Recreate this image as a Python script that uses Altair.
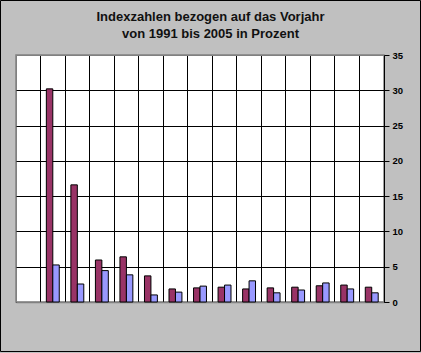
import altair as alt
import pandas as pd

years = [str(y) for y in range(1991, 2006)]
series_names = ["Reihe 1", "Reihe 2"]
reihe1 = [None, 30.2, 16.6, 5.95, 6.4, 3.7, 1.85, 2.0, 2.1, 1.85, 2.0, 2.1, 2.3, 2.4, 2.1]
reihe2 = [None, 5.25, 2.55, 4.45, 3.85, 1.0, 1.4, 2.25, 2.4, 3.0, 1.3, 1.7, 2.7, 1.85, 1.3]
colors = ["#993366", "#9999FF"]
y_ticks = [0, 5, 10, 15, 20, 25, 30, 35]
title_lines = ["Indexzahlen bezogen auf das Vorjahr", "von 1991 bis 2005 in Prozent"]

rows = []
for i, y in enumerate(years):
    for name, vals in zip(series_names, [reihe1, reihe2]):
        if vals[i] is not None:
            rows.append({"Jahr": y, "Reihe": name, "Wert": vals[i]})
df = pd.DataFrame(rows)

bars = alt.Chart(df).mark_bar(stroke="black", strokeWidth=1).encode(
    x=alt.X(
        "Jahr:N",
        scale=alt.Scale(domain=years, paddingInner=0, paddingOuter=0),
        axis=alt.Axis(
            title=None, labels=False, ticks=False, grid=True, bandPosition=0,
            gridColor={"condition": {"test": "datum.value === '1991'", "value": "#808080"}, "value": "black"},
            gridWidth=1, domainColor="#808080", domainWidth=1.5,
        ),
    ),
    xOffset=alt.XOffset("Reihe:N", scale=alt.Scale(domain=series_names, paddingInner=0, paddingOuter=0.9)),
    y=alt.Y(
        "Wert:Q",
        scale=alt.Scale(domain=[0, 35], nice=False),
        axis=alt.Axis(
            title=None, orient="right", values=y_ticks, grid=True,
            gridColor={"condition": {"test": "datum.value === 35", "value": "#808080"}, "value": "black"},
            gridWidth=1, domainColor="black", domainWidth=1, tickColor="black", tickSize=5,
            labelFont="Liberation Sans", labelFontSize=9.5, labelFontWeight="bold", labelColor="black",
            labelPadding=3,
        ),
    ),
    color=alt.Color("Reihe:N", scale=alt.Scale(domain=series_names, range=colors), legend=None),
)

frame = alt.Chart(pd.DataFrame({"a": [0]})).mark_rect(filled=False, stroke="black", strokeWidth=1).encode(
    x=alt.value(-15.5), x2=alt.value(404.5), y=alt.value(-54.5), y2=alt.value(296.5)
)

title = alt.Chart(pd.DataFrame({"a": [0]})).mark_text(
    font="Liberation Sans", fontSize=13, fontWeight="bold", color="#111111",
    lineHeight=17, align="center", baseline="alphabetic",
).encode(
    text=alt.value(title_lines), x=alt.value(194.5), y=alt.value(-34)
)

chart = alt.layer(bars, frame, title).properties(
    width=368,
    height=247,
    background="#C0C0C0",
    padding={"left": 16, "top": 55, "right": 37, "bottom": 51},
    autosize=alt.AutoSizeParams(type="none"),
).configure_view(
    fill="white", stroke="#808080", strokeWidth=1.5
)

chart.save("out.html", embed_options={"renderer": "svg", "actions": False})
